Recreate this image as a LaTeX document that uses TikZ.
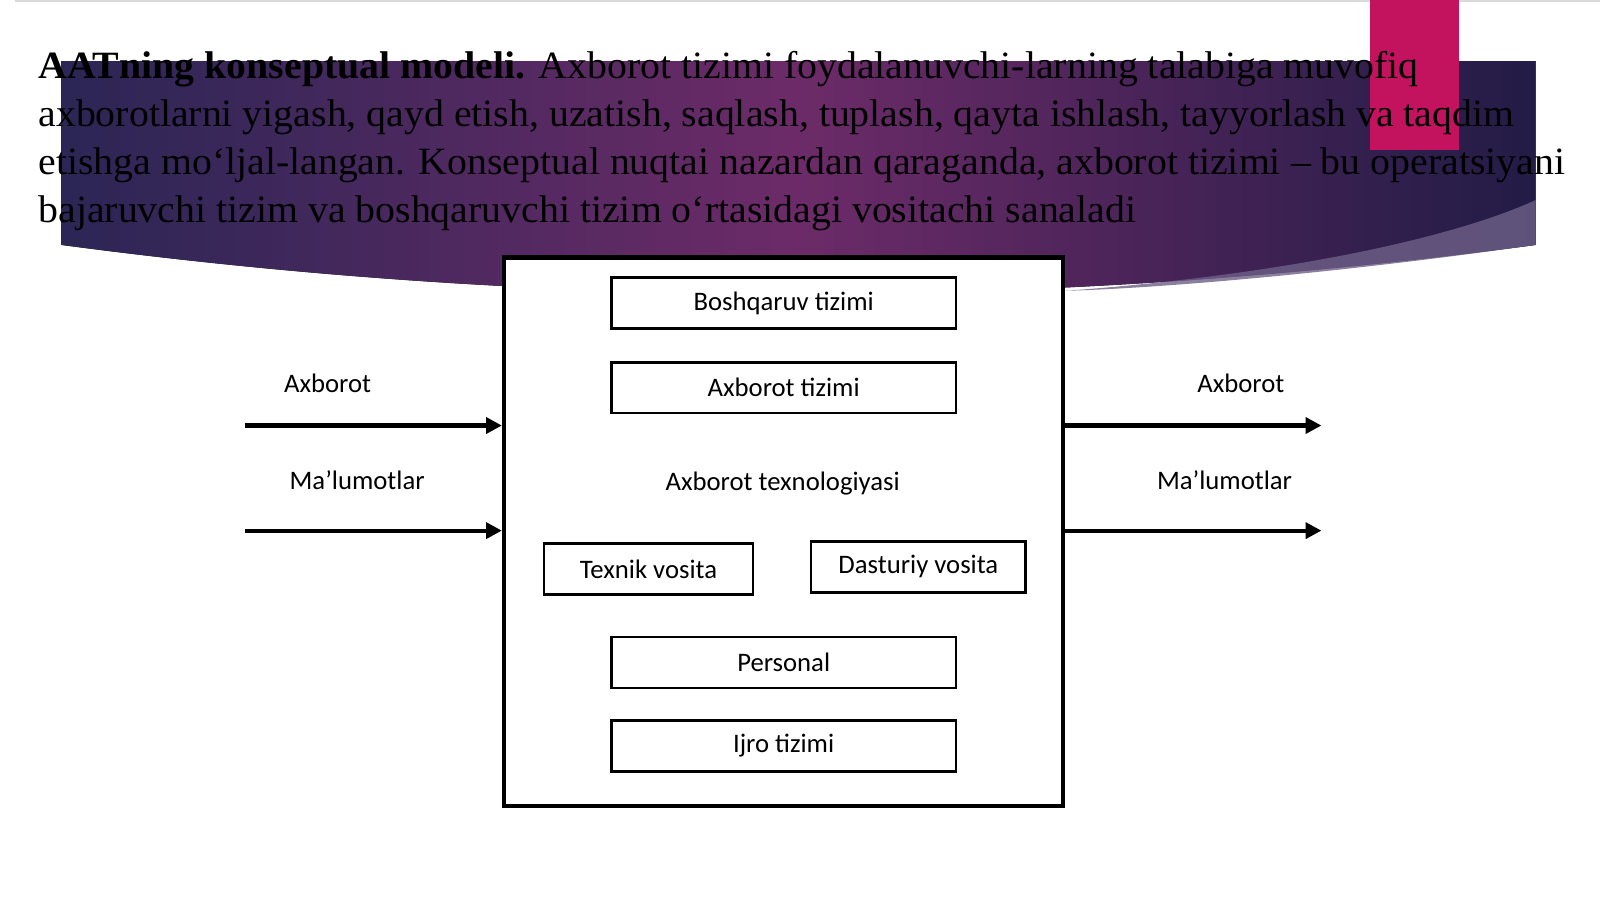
\documentclass[tikz,border=0pt]{standalone}
\usepackage{fontspec}
\setmainfont{Liberation Serif}
\newfontfamily\diagfont{Carlito}
\usetikzlibrary{arrows.meta}
\definecolor{pinkbar}{HTML}{C4135E}
\definecolor{bannerL}{HTML}{2B2655}
\definecolor{bannerM}{HTML}{6C2B68}
\definecolor{bannerR}{HTML}{221C46}
\definecolor{sheen}{HTML}{6E6088}
\definecolor{topline}{HTML}{D9D9D9}
\newcommand{\hwide}[1]{\scalebox{1.03}[1]{#1}}
\begin{document}
\begin{tikzpicture}[x=0.010204cm,y=-0.010204cm,
  headtext/.style={anchor=base west, inner sep=0, font=\fontsize{11}{12}\selectfont},
  sysbox/.style={draw=black, line width=1.3pt, fill=white, minimum width=5.592cm, minimum height=5.49cm, inner sep=0},
  compbox/.style={draw=black, line width=0.7pt, fill=white, minimum width=3.449cm, minimum height=0.51cm, inner sep=0, font=\diagfont\fontsize{7.6}{9}\selectfont},
  lbl/.style={font=\diagfont\fontsize{7.6}{9}\selectfont, inner sep=0},
  flow/.style={line width=1.2pt, -{Triangle[length=4.5pt,width=4.5pt]}}]
\useasboundingbox (0,0) rectangle (1568,881);
\fill[white] (0,0) rectangle (1568,881);
\draw[topline, line width=0.6pt] (15,1) -- (1568,1);
% banner
\fill[left color=bannerL, right color=bannerR, middle color=bannerM]
  (60,60) -- (1505,60) -- (1505,240)
  .. controls (1025,304) and (540,304) .. (60,240) -- cycle;
\fill[sheen, opacity=0.8] (1505,240) .. controls (1330,265) and (1150,282) .. (1044,285)
  .. controls (1250,270) and (1420,235) .. (1505,196) -- cycle;
% pink bar
\fill[pinkbar] (1343,0) rectangle (1430,147);
% heading text
\node[headtext] (l1) at (37,77) {\hwide{\textbf{AATning konseptual modeli.} Axborot tizimi foydalanuvchi-larning talabiga muvofiq}};
\node[headtext] (l2) at (37,124) {\hwide{axborotlarni yigash, qayd etish, uzatish, saqlash, tuplash, qayta ishlash, tayyorlash va taqdim}};
\node[headtext] (l3) at (37,171) {\hwide{etishga mo‘ljal-langan. Konseptual nuqtai nazardan qaraganda, axborot tizimi – bu operatsiyani}};
\node[headtext] (l4) at (37,218) {\hwide{bajaruvchi tizim va boshqaruvchi tizim o‘rtasidagi vositachi sanaladi}};
% main system box
\node[sysbox] (sys) at (768,521) {};
\node[compbox] (bosh) at (768,297) {Boshqaruv tizimi};
\node[compbox] (axt) at (768,380) {Axborot tizimi};
\node[lbl, anchor=base] (tex) at (767,481) {Axborot texnologiyasi};
\node[compbox, minimum width=2.092cm] (texnik) at (635.5,557.5) {Texnik vosita};
\node[compbox, minimum width=2.143cm] (dast) at (900,555.5) {Dasturiy vosita};
\node[compbox] (pers) at (768,649) {Personal};
\node[compbox] (ijro) at (768,731) {Ijro tizimi};
% flows
\coordinate (inA) at (240,417);
\coordinate (inB) at (240,520);
\coordinate (outA) at (1295,417);
\coordinate (outB) at (1295,520);
\draw[flow] (inA) -- (sys.west |- inA);
\draw[flow] (inB) -- (sys.west |- inB);
\draw[flow] (sys.east |- outA) -- (outA);
\draw[flow] (sys.east |- outB) -- (outB);
\node[lbl, anchor=base] (inAl) at (321,385) {Axborot};
\node[lbl, anchor=base] (inBl) at (350,480) {Ma’lumotlar};
\node[lbl, anchor=base] (outAl) at (1216,385) {Axborot};
\node[lbl, anchor=base] (outBl) at (1200,480) {Ma’lumotlar};
\end{tikzpicture}
\end{document}
